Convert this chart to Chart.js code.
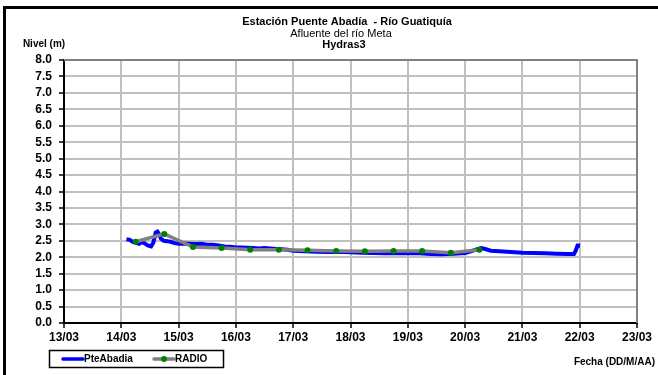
<!DOCTYPE html>
<html lang="es">
<head>
  <meta charset="UTF-8">
  <title>Estación Puente Abadía - Río Guatiquía</title>
  <script src="https://cdn.jsdelivr.net/npm/chart.js@4.4.1/dist/chart.umd.min.js"></script>
  <style>
    html, body { margin: 0; padding: 0; background: #fff; }
    #wrap { width: 658px; height: 375px; position: relative; }
  </style>
</head>
<body>
<div id="wrap"><canvas id="nivelChart"></canvas></div>

<script>
  // dia de marzo (fraccion) y nivel (m)
  const pteDias = [14.09, 14.15, 14.2, 14.26, 14.31, 14.36, 14.41, 14.46, 14.52, 14.56, 14.6, 14.63, 14.66, 14.69,
    14.74, 14.8, 14.86, 14.93, 15.0, 15.1, 15.2, 15.3, 15.4, 15.5, 15.6, 15.7, 15.8, 15.9, 16.0, 16.1, 16.2, 16.3,
    16.4, 16.5, 16.6, 16.7, 16.8, 16.9, 17.0, 17.2, 17.4, 17.6, 17.8, 18.0, 18.2, 18.4, 18.6, 18.8, 19.0, 19.2,
    19.4, 19.6, 19.8, 20.0, 20.1, 20.2, 20.28, 20.35, 20.45, 20.6, 20.8, 21.0, 21.2, 21.4, 21.6, 21.8, 21.9,
    21.93, 21.96, 21.97];
  const pteNivel = [2.55, 2.53, 2.47, 2.44, 2.41, 2.46, 2.42, 2.36, 2.33, 2.45, 2.75, 2.78, 2.70, 2.57,
    2.50, 2.49, 2.47, 2.43, 2.41, 2.42, 2.41, 2.40, 2.41, 2.38, 2.38, 2.36, 2.33, 2.32, 2.30, 2.30, 2.29, 2.28,
    2.27, 2.28, 2.27, 2.25, 2.24, 2.23, 2.20, 2.18, 2.17, 2.16, 2.17, 2.15, 2.14, 2.13, 2.12, 2.12, 2.12, 2.12,
    2.10, 2.09, 2.11, 2.13, 2.18, 2.24, 2.28, 2.25, 2.20, 2.18, 2.16, 2.14, 2.13, 2.12, 2.11, 2.10, 2.10,
    2.20, 2.35, 2.42];

  const radioDias = [14.25, 14.75, 15.25, 15.75, 16.25, 16.75, 17.25, 17.75, 18.25, 18.75, 19.25, 19.75, 20.25];
  const radioNivel = [2.47, 2.71, 2.31, 2.28, 2.23, 2.23, 2.21, 2.19, 2.18, 2.19, 2.19, 2.14, 2.23];

  const fechas = ["13/03", "14/03", "15/03", "16/03", "17/03", "18/03", "19/03", "20/03", "21/03", "22/03", "23/03"];
  const nivelTicks = [0, 0.5, 1, 1.5, 2, 2.5, 3, 3.5, 4, 4.5, 5, 5.5, 6, 6.5, 7, 7.5, 8];

  const FONT = "'Liberation Sans', Arial, sans-serif";

  // textos, marco y leyenda al estilo Excel
  const decorado = {
    id: 'decorado',
    beforeDraw(chart) {
      const c = chart.ctx;
      c.save();
      c.fillStyle = '#fff';
      c.fillRect(0, 0, chart.width, chart.height);
      c.restore();
    },
    afterDraw(chart) {
      const c = chart.ctx;
      const a = chart.chartArea;
      c.save();
      // borde gris del area de trazado (arriba y derecha)
      c.strokeStyle = '#808080';
      c.lineWidth = 2;
      c.beginPath();
      c.moveTo(a.left, a.top);
      c.lineTo(a.right, a.top);
      c.lineTo(a.right, a.bottom);
      c.stroke();

      // marco exterior
      c.strokeStyle = '#000';
      c.lineWidth = 3;
      c.strokeRect(4.5, 7.5, 660, 380);

      // titulos
      c.fillStyle = '#000';
      c.textAlign = 'center';
      c.textBaseline = 'middle';
      c.font = 'bold 11px ' + FONT;
      c.fillText('Estación Puente Abadía  - Río Guatiquía', 347, 22);
      c.font = '11px ' + FONT;
      c.fillText('Afluente del río Meta', 341, 33.5);
      c.font = 'bold 11px ' + FONT;
      c.fillText('Hydras3', 344, 45);

      c.font = 'bold 10px ' + FONT;
      c.fillText('Nivel (m)', 44, 44);
      c.textAlign = 'right';
      c.fillText('Fecha (DD/M/AA)', 655, 362);

      // leyenda
      c.lineWidth = 1.5;
      c.strokeRect(49.5, 350.5, 174, 17);
      c.lineCap = 'round';
      c.lineWidth = 3.5;
      c.strokeStyle = '#0000ff';
      c.beginPath(); c.moveTo(63, 359); c.lineTo(83, 359); c.stroke();
      c.strokeStyle = '#808080';
      c.beginPath(); c.moveTo(154, 359); c.lineTo(174, 359); c.stroke();
      c.fillStyle = '#008000';
      c.beginPath(); c.arc(164, 359, 3, 0, Math.PI * 2); c.fill();
      c.fillStyle = '#000';
      c.textAlign = 'left';
      c.font = 'bold 10px ' + FONT;
      c.fillText('PteAbadia', 84, 359.5);
      c.fillText('RADIO', 175, 359.5);
      c.restore();
    }
  };

  new Chart(document.getElementById('nivelChart'), {
    type: 'line',
    data: {
      datasets: [
        {
          label: 'PteAbadia',
          data: pteDias.map((d, i) => ({ x: d, y: pteNivel[i] })),
          borderColor: '#0000ff',
          borderWidth: 4,
          pointRadius: 0,
          tension: 0,
          order: 1
        },
        {
          label: 'RADIO',
          data: radioDias.map((d, i) => ({ x: d, y: radioNivel[i] })),
          borderColor: '#808080',
          borderWidth: 3.5,
          pointRadius: 3,
          pointBackgroundColor: '#008000',
          pointBorderWidth: 0,
          tension: 0,
          order: 0
        }
      ]
    },
    options: {
      responsive: true,
      maintainAspectRatio: false,
      animation: false,
      events: [],
      layout: { padding: { left: 0, top: 60, right: 21, bottom: 0 } },
      plugins: {
        legend: { display: false },
        title: { display: false },
        tooltip: { enabled: false }
      },
      scales: {
        x: {
          type: 'linear',
          min: 13,
          max: 23,
          afterFit: s => { s.height = 52; },
          afterBuildTicks: s => { s.ticks = fechas.map((f, i) => ({ value: 13 + i })); },
          ticks: {
            callback: (v, i) => fechas[i],
            color: '#000',
            font: { family: FONT, size: 12, weight: 'bold' },
            padding: 2,
            maxRotation: 0,
            autoSkip: false
          },
          grid: { color: '#c0c0c0', lineWidth: 2, tickLength: 5, tickColor: '#000', tickWidth: 1.5 },
          border: { color: '#000', width: 2 }
        },
        y: {
          min: 0,
          max: 8,
          afterFit: s => { s.width = 64; },
          afterBuildTicks: s => { s.ticks = nivelTicks.map(v => ({ value: v })); },
          ticks: {
            callback: v => v.toFixed(1),
            color: '#000',
            font: { family: FONT, size: 12, weight: 'bold' },
            padding: 7,
            autoSkip: false
          },
          grid: { color: '#c0c0c0', lineWidth: 2, tickLength: 5, tickColor: '#000', tickWidth: 1.5 },
          border: { color: '#000', width: 2 }
        }
      }
    },
    plugins: [decorado]
  });
</script>
</body>
</html>
